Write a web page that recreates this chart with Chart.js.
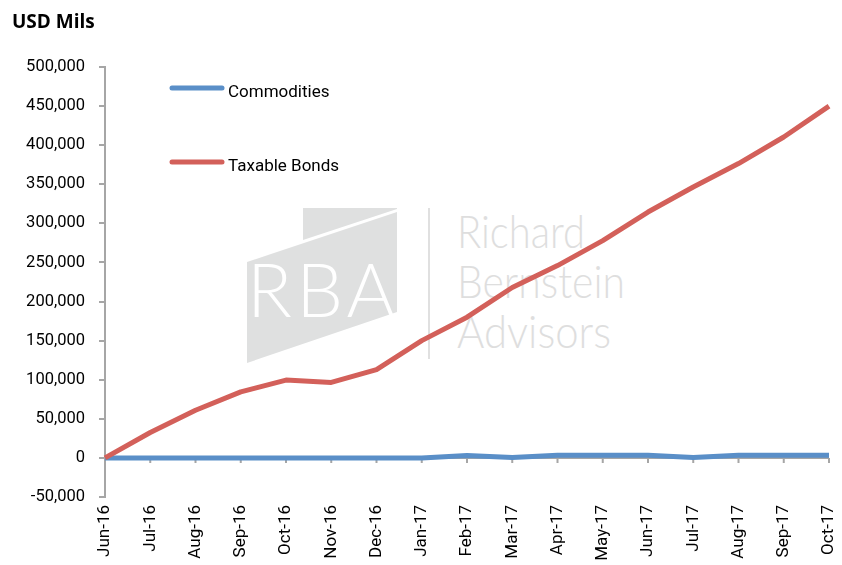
<!DOCTYPE html>
<html>
<head>
<meta charset="utf-8">
<title>Fund flows</title>
<script src="https://cdn.jsdelivr.net/npm/chart.js@4/dist/chart.umd.min.js"></script>
<style>
  body { margin: 0; background: #fff; }
  .wrap { position: relative; width: 842px; height: 565px; }
  .wrap canvas, .wrap svg { position: absolute; left: 0; top: 0; }
  .title {
    position: absolute;
    left: 12px;
    top: 8px;
    font: bold 19px "Open Sans", "Liberation Sans", sans-serif;
    color: #000;
  }
</style>
</head>
<body>
<div class="wrap">
  <!-- logo watermark sits behind the canvas -->
  <svg width="842" height="565">
    <polygon points="303,208 397,208 397,209 303,240" fill="#DFE0E0" />
    <polygon points="247,262 397,212 397,312 247,363" fill="#DFE0E0" />
    <text x="247" y="317" font-family="Lato, Roboto, sans-serif" font-weight="300" font-size="74" fill="#fff" textLength="148" lengthAdjust="spacing">RBA</text>
    <line x1="429" y1="208" x2="429" y2="359" stroke="#E0E0E0" stroke-width="2" />
    <text x="457" y="248" font-family="Lato, Roboto, sans-serif" font-weight="300" font-size="46" fill="#DEDEDE" textLength="128" lengthAdjust="spacingAndGlyphs">Richard</text>
    <text x="457" y="298" font-family="Lato, Roboto, sans-serif" font-weight="300" font-size="46" fill="#DEDEDE" textLength="168" lengthAdjust="spacingAndGlyphs">Bernstein</text>
    <text x="457" y="348" font-family="Lato, Roboto, sans-serif" font-weight="300" font-size="46" fill="#DEDEDE" textLength="154" lengthAdjust="spacingAndGlyphs">Advisors</text>
  </svg>
  <canvas id="myChart" width="842" height="565"></canvas>
  <div class="title">USD Mils</div>
</div>
<script>
const months = [
  "Jun-16", "Jul-16", "Aug-16", "Sep-16", "Oct-16", "Nov-16", "Dec-16",
  "Jan-17", "Feb-17", "Mar-17", "Apr-17", "May-17", "Jun-17", "Jul-17",
  "Aug-17", "Sep-17", "Oct-17",
];
const commodities = [
  0, 0, 0, 0, 0, 0, 0, 0, 3000, 500, 3500, 3500, 3500, 500, 3500, 3500, 3500,
];
const taxableBonds = [
  0, 32500, 61000, 84500, 99500, 96500, 113000, 150000, 180000, 218000,
  246000, 278000, 314500, 346500, 376500, 410500, 450000,
];
const yMin = -50000;
const yMax = 500000;
const yStep = 50000;

const BLUE = "#5A8FC8";
const RED = "#D3605A";
const AXIS = "#A6A6A6";
const FONT = "Roboto, 'Liberation Sans', sans-serif";

// x axis line crosses at zero, like the excel original
const zeroAxis = {
  id: "zeroAxis",
  beforeDatasetsDraw(chart) {
    const { ctx, chartArea, scales } = chart;
    const y = scales.y.getPixelForValue(0);
    ctx.save();
    ctx.strokeStyle = AXIS;
    ctx.lineWidth = 2;
    ctx.beginPath();
    ctx.moveTo(chartArea.left, y);
    ctx.lineTo(chartArea.right, y);
    months.forEach((m, i) => {
      const x = scales.x.getPixelForValue(i);
      ctx.moveTo(x, y);
      ctx.lineTo(x, y + 5);
    });
    ctx.stroke();
    ctx.restore();
  },
};

// legend lives inside the plot, top left
const innerLegend = {
  id: "innerLegend",
  afterDraw(chart) {
    const { ctx, chartArea } = chart;
    const x0 = chartArea.left + 67;
    const rows = [
      { label: chart.data.datasets[0].label, color: chart.data.datasets[0].borderColor, y: 88 },
      { label: chart.data.datasets[1].label, color: chart.data.datasets[1].borderColor, y: 162 },
    ];
    ctx.save();
    ctx.lineCap = "round";
    ctx.lineWidth = 5;
    ctx.font = `17px ${FONT}`;
    ctx.fillStyle = "#000";
    ctx.textBaseline = "middle";
    rows.forEach((r) => {
      ctx.strokeStyle = r.color;
      ctx.beginPath();
      ctx.moveTo(x0, r.y);
      ctx.lineTo(x0 + 50, r.y);
      ctx.stroke();
      ctx.fillText(r.label, x0 + 56, r.y + 5);
    });
    ctx.restore();
  },
};

new Chart(document.querySelector("#myChart"), {
  type: "line",
  data: {
    labels: months,
    datasets: [
      {
        label: "Commodities",
        data: commodities,
        borderColor: BLUE,
        borderWidth: 5,
        pointRadius: 0,
        tension: 0,
        borderJoinStyle: "round",
        order: 1,
      },
      {
        label: "Taxable Bonds",
        data: taxableBonds,
        borderColor: RED,
        borderWidth: 5,
        pointRadius: 0,
        tension: 0,
        borderJoinStyle: "round",
        order: 0,
      },
    ],
  },
  options: {
    responsive: false,
    animation: false,
    layout: { padding: { top: 67, right: 13, left: 0, bottom: 0 } },
    plugins: {
      legend: { display: false },
      tooltip: { enabled: false },
    },
    scales: {
      x: {
        offset: false,
        grid: { display: false, drawTicks: false },
        border: { display: false },
        ticks: {
          color: "#000",
          font: { family: FONT, size: 17 },
          minRotation: 90,
          maxRotation: 90,
          padding: 8,
          autoSkip: false,
        },
        afterFit: (scale) => {
          scale.height = 68;
          // rotated labels ask for side padding we don't want
          scale.paddingLeft = 0;
          scale.paddingRight = 0;
        },
      },
      y: {
        min: yMin,
        max: yMax,
        grid: {
          drawOnChartArea: false,
          color: AXIS,
          tickLength: 6,
          lineWidth: 2,
        },
        border: { color: AXIS, width: 2 },
        ticks: {
          stepSize: yStep,
          color: "#000",
          font: { family: FONT, size: 16.5 },
          padding: 14,
          callback: (v) => v.toLocaleString("en-US"),
        },
        afterFit: (scale) => {
          scale.width = 105;
        },
      },
    },
  },
  plugins: [zeroAxis, innerLegend],
});
</script>
</body>
</html>
